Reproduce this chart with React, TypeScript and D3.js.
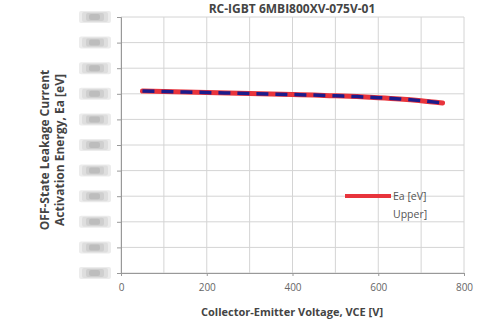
import { useRef, useEffect } from "react";
import * as d3 from "d3";

const voltage = [50, 100, 150, 200, 250, 300, 350, 400, 450, 500, 550, 600, 650, 700, 750];
const eaUpper = [0.711, 0.709, 0.707, 0.705, 0.703, 0.701, 0.699, 0.697, 0.695, 0.692, 0.689, 0.685, 0.68, 0.673, 0.664];
const eaFit = [0.711, 0.709, 0.707, 0.705, 0.703, 0.701, 0.699, 0.697, 0.695, 0.692, 0.689, 0.685, 0.68, 0.673, 0.664];
const xTicks = [0, 200, 400, 600, 800];
const xGrid = [0, 100, 200, 300, 400, 500, 600, 700, 800];
const yGrid = [0, 0.1, 0.2, 0.3, 0.4, 0.5, 0.6, 0.7, 0.8, 0.9, 1.0];
const legendLines = ["Ea [eV]", "Upper]"];

const width = 483;
const height = 328;
const marginLeft = 121;
const marginRight = 19;
const marginTop = 17;
const marginBottom = 55;

export default function App() {
  const ref = useRef<SVGSVGElement>(null);

  useEffect(() => {
    const svg = d3.select(ref.current);
    svg.selectAll("*").remove();

    const x = d3.scaleLinear().domain([0, 800]).range([marginLeft, width - marginRight]);
    const y = d3.scaleLinear().domain([0, 1]).range([height - marginBottom, marginTop]);

    svg.append("rect").attr("width", width).attr("height", height).attr("fill", "#fff");

    // grid
    svg.append("g").selectAll("line").data(xGrid).join("line")
      .attr("x1", (d) => x(d)).attr("x2", (d) => x(d))
      .attr("y1", y(0)).attr("y2", y(1))
      .attr("stroke", "#d4d4d4").attr("stroke-width", 1);
    svg.append("g").selectAll("line").data(yGrid).join("line")
      .attr("x1", x(0)).attr("x2", x(800))
      .attr("y1", (d) => y(d)).attr("y2", (d) => y(d))
      .attr("stroke", "#d4d4d4").attr("stroke-width", 1);

    // axes
    const xAxis = d3.axisBottom(x).tickValues(xTicks).tickSize(3).tickFormat(d3.format("d"));
    svg.append("g")
      .attr("transform", `translate(0,${y(0)})`)
      .call(xAxis)
      .call((g) => g.select(".domain").attr("stroke", "#999"))
      .call((g) => g.selectAll(".tick line").attr("stroke", "#999"))
      .call((g) => g.selectAll(".tick text")
        .attr("fill", "#666").attr("font-size", 10).attr("dy", "1.2em")
        .attr("font-family", "Open Sans, sans-serif"));

    const yAxis = d3.axisLeft(y).tickValues(yGrid).tickSize(4).tickFormat(() => "");
    svg.append("g")
      .attr("transform", `translate(${x(0)},0)`)
      .call(yAxis)
      .call((g) => g.select(".domain").attr("stroke", "#999"))
      .call((g) => g.selectAll(".tick line").attr("stroke", "#999"));

    // blurred (redacted) y tick labels, soft layered boxes
    const layers = [
      { dx: 0, dy: 6, w: 32, h: 12, c: "#ececec" },
      { dx: 3, dy: 5, w: 26, h: 10, c: "#dedede" },
      { dx: 7, dy: 4, w: 18, h: 8, c: "#cfcfcf" },
      { dx: 10, dy: 3, w: 11, h: 6, c: "#bdbdbd" },
    ];
    const blurred = svg.append("g");
    layers.forEach((l) => {
      blurred.append("g").selectAll("rect").data(yGrid).join("rect")
        .attr("x", 79 + l.dx).attr("y", (d) => y(d) - l.dy)
        .attr("width", l.w).attr("height", l.h)
        .attr("rx", 2)
        .attr("fill", l.c);
    });

    // lines
    const line = d3.line<number>()
      .x((d, i) => x(voltage[i]))
      .y((d) => y(d))
      .curve(d3.curveMonotoneX);

    svg.append("path").datum(eaUpper)
      .attr("d", line).attr("fill", "none")
      .attr("stroke", "#e8343c").attr("stroke-width", 5).attr("stroke-linecap", "round");
    svg.append("path").datum(eaFit)
      .attr("d", line).attr("fill", "none")
      .attr("stroke", "#1c1c8c").attr("stroke-width", 3.5)
      .attr("stroke-dasharray", "12,7");

    // legend
    svg.append("line")
      .attr("x1", 345).attr("x2", 391).attr("y1", 196).attr("y2", 196)
      .attr("stroke", "#e8343c").attr("stroke-width", 4);
    svg.append("g").selectAll("text").data(legendLines).join("text")
      .attr("x", 393).attr("y", (d, i) => 200 + i * 18)
      .attr("font-size", 10.5).attr("fill", "#555")
      .attr("font-family", "Open Sans, sans-serif")
      .text((d) => d);

    // titles
    svg.append("text")
      .attr("x", 292).attr("y", 13).attr("text-anchor", "middle")
      .attr("font-size", 12).attr("font-weight", "bold").attr("fill", "#444")
      .attr("font-family", "Open Sans, sans-serif")
      .text("RC-IGBT 6MBI800XV-075V-01");

    svg.append("text")
      .attr("x", 292).attr("y", 316).attr("text-anchor", "middle")
      .attr("font-size", 11).attr("font-weight", "bold").attr("fill", "#444")
      .attr("font-family", "Open Sans, sans-serif")
      .text("Collector-Emitter Voltage, VCE [V]");

    const yTitle = svg.append("text")
      .attr("transform", `translate(49,150) rotate(-90)`)
      .attr("text-anchor", "middle")
      .attr("font-size", 12).attr("font-weight", "bold").attr("fill", "#444")
      .attr("font-family", "Open Sans, sans-serif");
    yTitle.append("tspan").attr("x", 0).attr("dy", 0).text("OFF-State Leakage Current");
    yTitle.append("tspan").attr("x", 0).attr("dy", 15).text("Activation Energy, Ea [eV]");
  }, []);

  return (
    <svg ref={ref} width={width} height={height}
      style={{ position: "absolute", left: 0, top: 0, display: "block" }} />
  );
}
